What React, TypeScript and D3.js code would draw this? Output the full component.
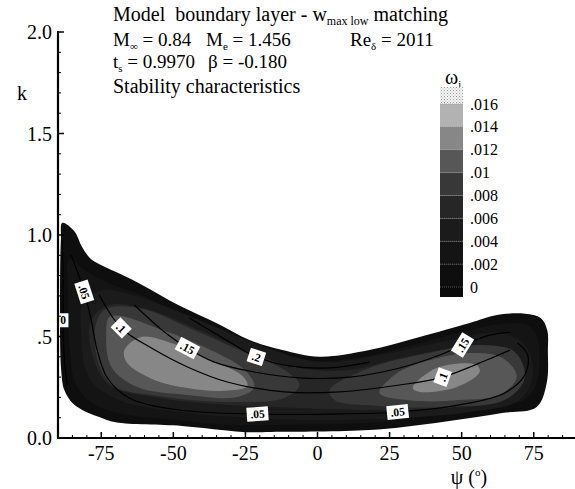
import React from "react";
import * as d3 from "d3";

const W = 575;
const H = 489;

// axis ticks
const psiTicks = [-75, -50, -25, 0, 25, 50, 75];
const kTicks = [0, 0.5, 1, 1.5, 2];
const kTickLabels = ["0.0", ".5", "1.0", "1.5", "2.0"];

// legend levels of omega_i
const legendLevels = [0, 0.002, 0.004, 0.006, 0.008, 0.01, 0.012, 0.014, 0.016];
const legendLabels = ["0", ".002", ".004", ".006", ".008", ".01", ".012", ".014", ".016"];
// band colours: below 0, between each pair of levels, above .016
const bandColors = ["#0a0a0a", "#0e0e0e", "#141414", "#1b1b1b", "#262626", "#383838", "#575757", "#878787", "#b2b2b2", "url(#dots)"];

// filled regions, [psi (deg), k]
const outerRegion: [number, number][] = [
  [-88.5, 1.06], [-84.4, 1.02], [-81.6, 0.94], [-78.5, 0.88], [-73.3, 0.84], [-64.2, 0.78],
  [-46.9, 0.645], [-35.1, 0.567], [-23.6, 0.483], [-12.2, 0.433], [0.7, 0.4], [18, 0.433],
  [35.4, 0.498], [52.8, 0.567], [62.2, 0.606], [72, 0.612], [77.5, 0.59], [79.7, 0.53],
  [79.9, 0.433], [79.5, 0.271], [76, 0.153], [64, 0.123], [41, 0.074], [18, 0.039],
  [-16, 0.03], [-26, 0.03], [-47, 0.059], [-70, 0.077], [-75.7, 0.103], [-81.6, 0.138],
  [-85, 0.172], [-87.8, 0.236], [-88.9, 0.335], [-89.3, 0.68], [-89, 0.975],
];
const region1: [number, number][] = [
  [-86, 0.88], [-80, 0.82], [-72, 0.76], [-60, 0.7], [-46, 0.59], [-34, 0.52], [-22, 0.44],
  [-10, 0.4], [2, 0.378], [18, 0.405], [35, 0.465], [52, 0.53], [63, 0.56], [72, 0.56],
  [76, 0.51], [77, 0.4], [76, 0.27], [72, 0.19], [62, 0.16], [40, 0.11], [18, 0.075],
  [-10, 0.065], [-30, 0.065], [-50, 0.09], [-68, 0.12], [-78, 0.17], [-84, 0.27], [-86, 0.45], [-86.5, 0.7],
];
const region2: [number, number][] = [
  [-81.9, 0.483], [-80.9, 0.68], [-74, 0.729], [-61.8, 0.695], [-41, 0.581], [-20.1, 0.458],
  [0.7, 0.374], [21.5, 0.409], [45.8, 0.483], [63.2, 0.517], [71.9, 0.458], [74.7, 0.31],
  [70.1, 0.187], [52.8, 0.128], [28.5, 0.099], [0.7, 0.089], [-23.6, 0.099], [-47.9, 0.128],
  [-68.8, 0.187], [-79.2, 0.296],
];
const region3: [number, number][] = [
  [-78.1, 0.409], [-78.5, 0.581], [-72.2, 0.655], [-58.3, 0.631], [-41, 0.532], [-23.6, 0.424],
  [-6.25, 0.345], [11.1, 0.335], [28.5, 0.394], [49.3, 0.443], [66.7, 0.433], [71.9, 0.31],
  [63.2, 0.187], [45.8, 0.148], [21.5, 0.138], [-6.25, 0.148], [-30.6, 0.163], [-54.9, 0.197],
  [-72.2, 0.261],
];
const region4Left: [number, number][] = [
  [-77.4, 0.507], [-74, 0.631], [-61.8, 0.64], [-44.4, 0.542], [-27.1, 0.433], [-11.5, 0.335],
  [-6.25, 0.261], [-11.5, 0.197], [-30.6, 0.177], [-54.9, 0.207], [-72.2, 0.271],
];
const region4Right: [number, number][] = [
  [4.2, 0.236], [18.1, 0.345], [35.4, 0.409], [56.25, 0.458], [68.4, 0.424], [71.9, 0.296],
  [64.9, 0.187], [45.8, 0.153], [21.5, 0.158], [5.9, 0.187],
];
const region5Left: [number, number][] = [
  [-73.3, 0.517], [-72.2, 0.596], [-68.1, 0.601], [-56.6, 0.547], [-39.2, 0.448], [-25.3, 0.335],
  [-21.9, 0.251], [-27.8, 0.202], [-45.1, 0.212], [-62.5, 0.251], [-71.5, 0.35],
];
const region5Right: [number, number][] = [
  [21.5, 0.222], [26.7, 0.31], [35.4, 0.369], [52.8, 0.419], [64.2, 0.394], [69.1, 0.3],
  [63.2, 0.212], [49.3, 0.187], [35.4, 0.182],
];
const region6Left: [number, number][] = [
  [-67, 0.433], [-61.1, 0.498], [-50.7, 0.468], [-39.2, 0.394], [-26.4, 0.31], [-24.3, 0.256],
  [-33.3, 0.232], [-45.1, 0.246], [-56.6, 0.286], [-66, 0.369],
];
const region6Right: [number, number][] = [
  [33, 0.246], [41.3, 0.345], [55.2, 0.36], [56.25, 0.325], [48.3, 0.251], [35.4, 0.227],
];

const regions = [
  { band: 1, pts: outerRegion },
  { band: 2, pts: region1 },
  { band: 3, pts: region2 },
  { band: 4, pts: region3 },
  { band: 5, pts: region4Left },
  { band: 5, pts: region4Right },
  { band: 6, pts: region5Left },
  { band: 6, pts: region5Right },
  { band: 7, pts: region6Left },
  { band: 7, pts: region6Right },
];

// black contour lines
const line0: [number, number][] = [[-88.5, 0.975], [-88.2, 0.78], [-88.2, 0.581], [-87.8, 0.384], [-86.8, 0.261]];
const line05: [number, number][] = [
  [-85.4, 0.901], [-80.9, 0.719], [-78.5, 0.581], [-76.4, 0.433], [-72.9, 0.296], [-65.3, 0.197],
  [-47.9, 0.138], [-20.8, 0.118], [4.2, 0.118], [27.8, 0.128], [49.3, 0.163], [64.9, 0.222],
  [71.9, 0.31], [72.9, 0.409], [69.4, 0.468],
];
const line10: [number, number][] = [
  [-75.7, 0.704], [-68.1, 0.542], [-57.6, 0.443], [-45.1, 0.35], [-31.3, 0.276], [-11.5, 0.227],
  [7.6, 0.227], [28.5, 0.261], [43.4, 0.3], [58.7, 0.384], [66.7, 0.433],
];
const line15: [number, number][] = [
  [-63.5, 0.655], [-53.1, 0.522], [-45.1, 0.443], [-35.8, 0.374], [-21.9, 0.325], [-6.25, 0.296],
  [11.1, 0.3], [28.5, 0.345], [42.4, 0.409], [50.3, 0.458], [59.7, 0.507], [66.7, 0.522],
];
const line20: [number, number][] = [
  [-44.4, 0.591], [-29.9, 0.468], [-21.2, 0.399], [-9.7, 0.355], [4.2, 0.345], [18.1, 0.374],
];
const contourLines = [line0, line05, line10, line15, line20];

const contourLabels = [
  { text: "0", psi: -88.2, k: 0.58, angle: 0 },
  { text: ".05", psi: -80.9, k: 0.72, angle: 72 },
  { text: ".1", psi: -68.1, k: 0.542, angle: 45 },
  { text: ".15", psi: -45.1, k: 0.443, angle: 28 },
  { text: ".2", psi: -21.2, k: 0.399, angle: 18 },
  { text: ".05", psi: -20.8, k: 0.118, angle: -4 },
  { text: ".05", psi: 27.8, k: 0.128, angle: -6 },
  { text: ".1", psi: 43.4, k: 0.3, angle: -70 },
  { text: ".15", psi: 50.3, k: 0.458, angle: -58 },
];

const serif = "Liberation Serif, Times New Roman, serif";

export default function App() {
  const x = d3.scaleLinear([-90, 90], [58, 577]);
  const y = d3.scaleLinear([0, 2], [438, 32]);
  const area = d3.line<[number, number]>((d) => x(d[0]), (d) => y(d[1])).curve(d3.curveCatmullRomClosed.alpha(0.5));
  const curve = d3.line<[number, number]>((d) => x(d[0]), (d) => y(d[1])).curve(d3.curveCatmullRom.alpha(0.5));

  const ly = d3.scaleLinear([0, 0.016], [287, 104]);
  const legendX = 440;
  const legendW = 23;

  const minorPsi = d3.range(-90, 91, 5).filter((v) => v % 25 !== 0);
  const minorK = d3.range(0, 2.001, 0.1).filter((v) => Math.abs(v * 2 - Math.round(v * 2)) > 0.01);

  const fs = 20;
  const fs2 = 19;
  const sub = 11;

  return (
    <svg width={W} height={H} style={{ position: "absolute", left: 0, top: 0, background: "white", fontFamily: serif }}>
      <defs>
        <pattern id="dots" width="3" height="3" patternUnits="userSpaceOnUse">
          <rect width="3" height="3" fill="#f4f4f4" />
          <rect x="0" y="0" width="1" height="1" fill="#9a9a9a" />
          <rect x="1.5" y="1.5" width="1" height="1" fill="#bdbdbd" />
        </pattern>
      </defs>

      {/* filled omega_i regions */}
      {regions.map((r, i) => (
        <path key={i} d={area(r.pts) || ""} fill={bandColors[r.band]} />
      ))}

      {/* contour lines */}
      {contourLines.map((l, i) => (
        <path key={i} d={curve(l) || ""} fill="none" stroke="#000" strokeWidth={1.2} />
      ))}

      {/* contour labels */}
      {contourLabels.map((c, i) => {
        const w = 5 + c.text.length * 5.5;
        return (
          <g key={i} transform={`translate(${x(c.psi)},${y(c.k)}) rotate(${c.angle})`}>
            <rect x={-w / 2} y={-7} width={w} height={14} fill="#fff" />
            <text textAnchor="middle" dy="0.35em" fontSize={11.5} fontWeight="bold" fill="#000">
              {c.text}
            </text>
          </g>
        );
      })}

      {/* y axis */}
      <line x1={x(-90)} x2={x(-90)} y1={y(2) - 1} y2={y(0)} stroke="#000" strokeWidth={2.2} />
      {kTicks.map((k) => (
        <line key={k} x1={x(-90)} x2={x(-90) + 6} y1={y(k)} y2={y(k)} stroke="#000" strokeWidth={1.5} />
      ))}
      {minorK.map((k) => (
        <line key={k} x1={x(-90)} x2={x(-90) + 3} y1={y(k)} y2={y(k)} stroke="#000" strokeWidth={1} />
      ))}
      {kTicks.map((k, i) => (
        <text key={k} x={52} y={y(k)} dy="0.35em" textAnchor="end" fontSize={fs}>
          {kTickLabels[i]}
        </text>
      ))}
      <text x={22} y={100} fontSize={fs} textAnchor="middle">k</text>

      {/* x axis */}
      <line x1={x(-90) - 1} x2={W} y1={y(0)} y2={y(0)} stroke="#000" strokeWidth={2.2} />
      {psiTicks.map((p) => (
        <line key={p} x1={x(p)} x2={x(p)} y1={y(0)} y2={y(0) - 6} stroke="#000" strokeWidth={1.5} />
      ))}
      {minorPsi.map((p) => (
        <line key={p} x1={x(p)} x2={x(p)} y1={y(0)} y2={y(0) - 3} stroke="#000" strokeWidth={1} />
      ))}
      {psiTicks.map((p) => (
        <text key={p} x={x(p)} y={460} textAnchor="middle" fontSize={fs}>
          {p}
        </text>
      ))}
      <text x={469} y={484} textAnchor="middle" fontSize={fs}>
        ψ (<tspan fontSize={11} dy={-8}>o</tspan><tspan dy={8}>)</tspan>
      </text>

      {/* title block */}
      <text x={113} y={21} fontSize={fs}>
        Model{"\u00A0"} boundary layer - w<tspan fontSize={12} dy={4}>max low</tspan>
        <tspan dy={-4}> matching</tspan>
      </text>
      <text x={113} y={46} fontSize={fs2}>
        M<tspan fontSize={sub} dy={4}>∞</tspan><tspan dy={-4}> = 0.84</tspan>
      </text>
      <text x={206} y={46} fontSize={fs2}>
        M<tspan fontSize={sub} dy={4}>e</tspan><tspan dy={-4}> = 1.456</tspan>
      </text>
      <text x={350} y={46} fontSize={fs2}>
        Re<tspan fontSize={sub} dy={4}>δ</tspan><tspan dy={-4}> = 2011</tspan>
      </text>
      <text x={113} y={68} fontSize={fs2}>
        t<tspan fontSize={sub} dy={4}>s</tspan><tspan dy={-4}> = 0.9970</tspan>
      </text>
      <text x={208} y={68} fontSize={fs2}>β = -0.180</text>
      <text x={113} y={93} fontSize={fs}>Stability characteristics</text>

      {/* legend */}
      <text x={445} y={84} fontSize={fs}>
        ω<tspan fontSize={sub} dy={4}>i</tspan>
      </text>
      {bandColors.map((c, i) => {
        const top = i === bandColors.length - 1 ? ly(0.016) - 17 : i === 0 ? ly(0) : ly(legendLevels[i]);
        const bottom = i === 0 ? ly(0) + 10 : ly(legendLevels[i - 1]);
        return <rect key={i} x={legendX} y={top} width={legendW} height={bottom - top} fill={c} />;
      })}
      {legendLevels.map((v) => (
        <line key={v} x1={legendX} x2={legendX + legendW} y1={ly(v)} y2={ly(v)} stroke="#888" strokeWidth={0.6} strokeDasharray="1,1" />
      ))}
      {legendLevels.map((v, i) => (
        <text key={v} x={470} y={ly(v)} dy="0.35em" fontSize={16}>
          {legendLabels[i]}
        </text>
      ))}
    </svg>
  );
}
